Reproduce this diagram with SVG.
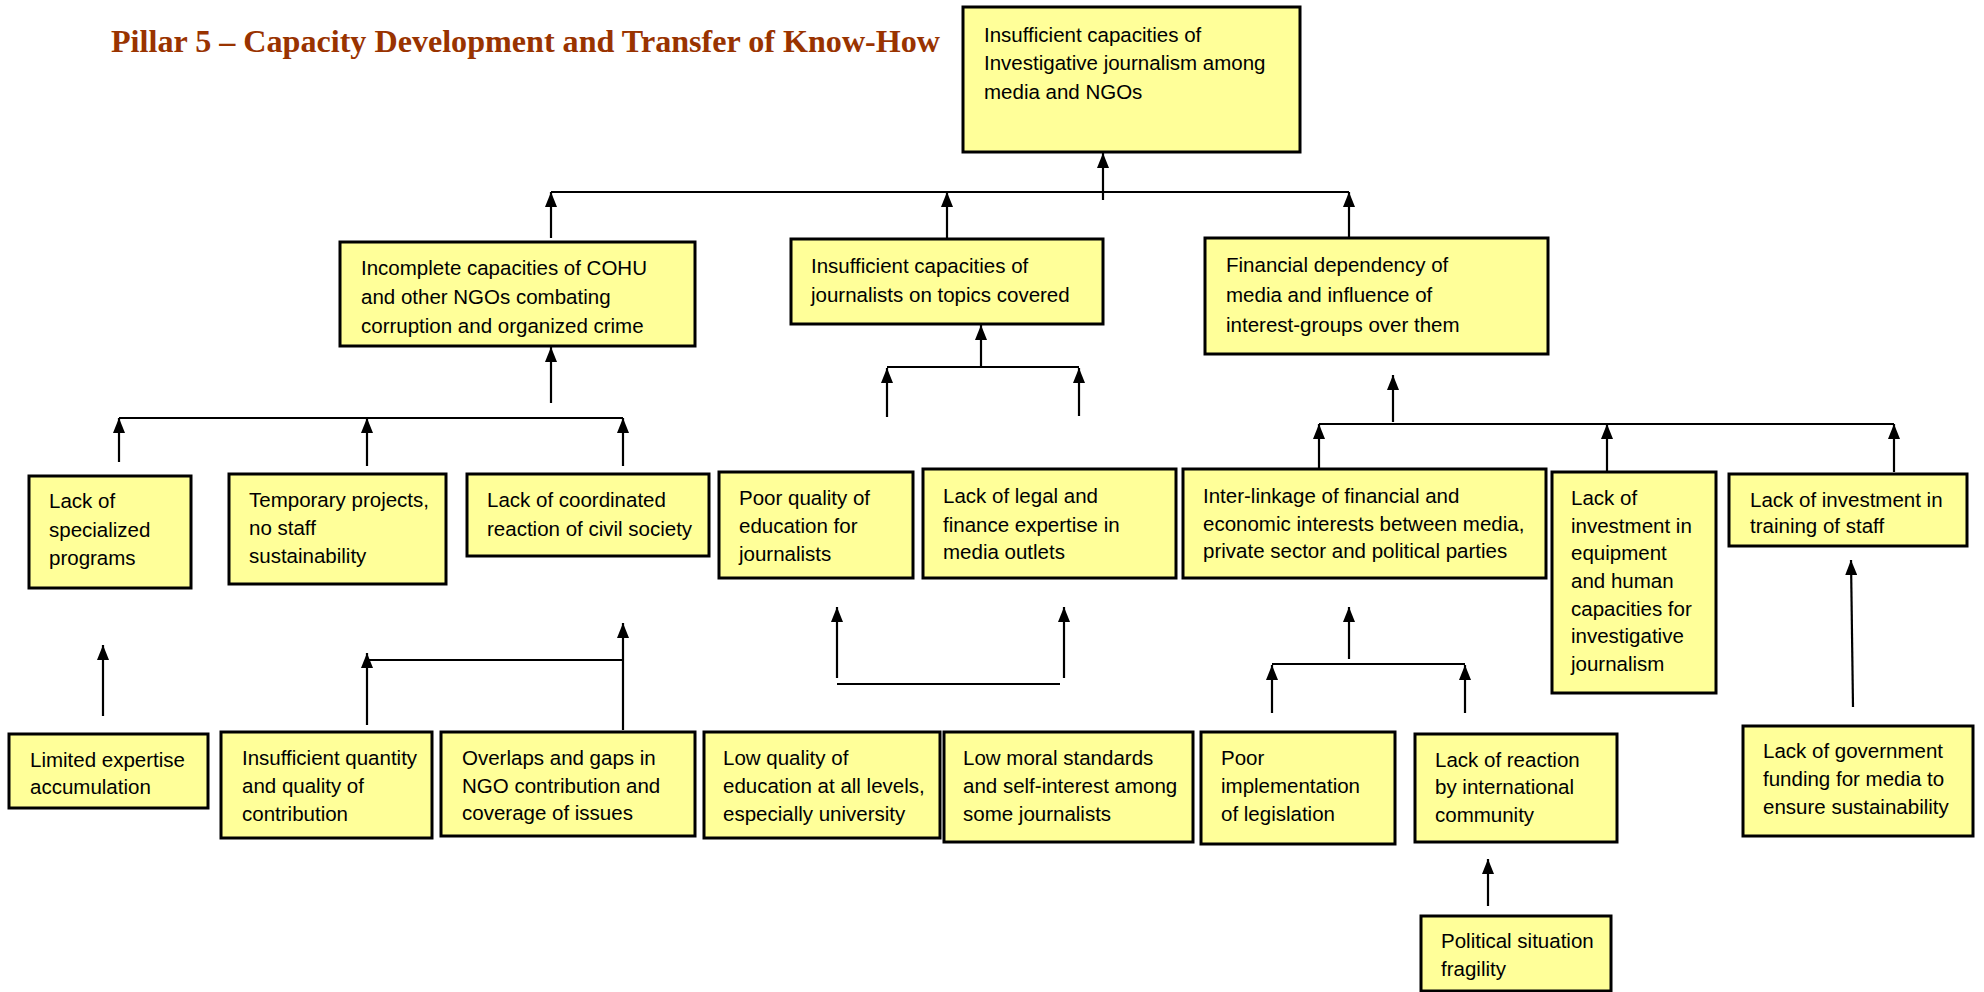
<svg xmlns="http://www.w3.org/2000/svg" width="1984" height="992" viewBox="0 0 1984 992">
<style>
.box rect{fill:#FFFF99;stroke:#000;stroke-width:3}
.box text{font-family:"Liberation Sans",Arial,sans-serif;font-size:20.5px;fill:#000}
.title{font-family:"Liberation Serif","Times New Roman",serif;font-size:31px;font-weight:bold;fill:#993300}
#connectors line{stroke:#000;stroke-width:2.2}
#connectors .arrow{marker-end:url(#ah)}
</style>
<defs>
<marker id="ah" viewBox="0 0 15 12" refX="15" refY="6" markerWidth="15" markerHeight="12" markerUnits="userSpaceOnUse" orient="auto">
<path d="M0,0 L15,6 L0,12 z" fill="#000"/>
</marker>
</defs>
<rect width="1984" height="992" fill="#fff"/>
<text class="title" x="111" y="52" textLength="829" lengthAdjust="spacingAndGlyphs">Pillar 5 – Capacity Development and Transfer of Know-How</text>

<g id="connectors">
<line class="arrow" x1="1103" y1="200" x2="1103" y2="153"/>
<line x1="551" y1="192" x2="1349" y2="192"/>
<line class="arrow" x1="551" y1="238" x2="551" y2="192"/>
<line class="arrow" x1="947" y1="238" x2="947" y2="192"/>
<line class="arrow" x1="1349" y1="237" x2="1349" y2="192"/>

<line class="arrow" x1="551" y1="403" x2="551" y2="347"/>
<line x1="119" y1="418" x2="623" y2="418"/>
<line class="arrow" x1="119" y1="462" x2="119" y2="418"/>
<line class="arrow" x1="367" y1="466" x2="367" y2="418"/>
<line class="arrow" x1="623" y1="466" x2="623" y2="418"/>
<line class="arrow" x1="103" y1="716" x2="103" y2="645"/>
<line class="arrow" x1="367" y1="725" x2="367" y2="653"/>
<line x1="367" y1="660" x2="623" y2="660"/>
<line class="arrow" x1="623" y1="730" x2="623" y2="623"/>

<line class="arrow" x1="981" y1="367" x2="981" y2="325"/>
<line x1="887" y1="367" x2="1079" y2="367"/>
<line class="arrow" x1="887" y1="417" x2="887" y2="368"/>
<line class="arrow" x1="1079" y1="416" x2="1079" y2="368"/>
<line class="arrow" x1="837" y1="678" x2="837" y2="607"/>
<line class="arrow" x1="1064" y1="678" x2="1064" y2="607"/>
<line x1="837" y1="684" x2="1060" y2="684"/>

<line class="arrow" x1="1393" y1="422" x2="1393" y2="375"/>
<line x1="1319" y1="424" x2="1894" y2="424"/>
<line class="arrow" x1="1319" y1="469" x2="1319" y2="424"/>
<line class="arrow" x1="1607" y1="471" x2="1607" y2="424"/>
<line class="arrow" x1="1894" y1="472" x2="1894" y2="424"/>
<line class="arrow" x1="1349" y1="659" x2="1349" y2="607"/>
<line x1="1272" y1="664" x2="1465" y2="664"/>
<line class="arrow" x1="1272" y1="713" x2="1272" y2="665"/>
<line class="arrow" x1="1465" y1="713" x2="1465" y2="665"/>
<line class="arrow" x1="1488" y1="906" x2="1488" y2="859"/>
<line class="arrow" x1="1853" y1="707" x2="1851" y2="560"/>
</g>

<g id="n-top" class="box"><rect x="963" y="7" width="337" height="145"/>
<text x="984" y="42">Insufficient capacities of</text><text x="984" y="70">Investigative journalism among</text><text x="984" y="99">media and NGOs</text></g>

<g id="n-cohu" class="box"><rect x="340" y="242" width="355" height="104"/>
<text x="361" y="275">Incomplete capacities of COHU</text><text x="361" y="304">and other NGOs combating</text><text x="361" y="333">corruption and organized crime</text></g>

<g id="n-journ" class="box"><rect x="791" y="239" width="312" height="85"/>
<text x="811" y="273">Insufficient capacities of</text><text x="811" y="302">journalists on topics covered</text></g>

<g id="n-fin" class="box"><rect x="1205" y="238" width="343" height="116"/>
<text x="1226" y="272">Financial dependency of</text><text x="1226" y="302">media and influence of</text><text x="1226" y="332">interest-groups over them</text></g>

<g id="n-spec" class="box"><rect x="29" y="476" width="162" height="112"/>
<text x="49" y="508">Lack of</text><text x="49" y="537">specialized</text><text x="49" y="565">programs</text></g>

<g id="n-temp" class="box"><rect x="229" y="474" width="217" height="110"/>
<text x="249" y="507">Temporary projects,</text><text x="249" y="535">no staff</text><text x="249" y="563">sustainability</text></g>

<g id="n-coord" class="box"><rect x="467" y="474" width="242" height="82"/>
<text x="487" y="507">Lack of coordinated</text><text x="487" y="536">reaction of civil society</text></g>

<g id="n-poored" class="box"><rect x="719" y="472" width="194" height="106"/>
<text x="739" y="505">Poor quality of</text><text x="739" y="533">education for</text><text x="739" y="561">journalists</text></g>

<g id="n-legal" class="box"><rect x="923" y="469" width="253" height="109"/>
<text x="943" y="503">Lack of legal and</text><text x="943" y="532">finance expertise in</text><text x="943" y="559">media outlets</text></g>

<g id="n-inter" class="box"><rect x="1183" y="469" width="363" height="109"/>
<text x="1203" y="503">Inter-linkage of financial and</text><text x="1203" y="531">economic interests between media,</text><text x="1203" y="558">private sector and political parties</text></g>

<g id="n-equip" class="box"><rect x="1552" y="472" width="164" height="221"/>
<text x="1571" y="505">Lack of</text><text x="1571" y="533">investment in</text><text x="1571" y="560">equipment</text><text x="1571" y="588">and human</text><text x="1571" y="616">capacities for</text><text x="1571" y="643">investigative</text><text x="1571" y="671">journalism</text></g>

<g id="n-train" class="box"><rect x="1729" y="474" width="238" height="72"/>
<text x="1750" y="507">Lack of investment in</text><text x="1750" y="533">training of staff</text></g>

<g id="n-limited" class="box"><rect x="9" y="734" width="199" height="74"/>
<text x="30" y="767">Limited expertise</text><text x="30" y="794">accumulation</text></g>

<g id="n-insuffq" class="box"><rect x="221" y="732" width="211" height="106"/>
<text x="242" y="765">Insufficient quantity</text><text x="242" y="793">and quality of</text><text x="242" y="821">contribution</text></g>

<g id="n-overlap" class="box"><rect x="441" y="732" width="254" height="104"/>
<text x="462" y="765">Overlaps and gaps in</text><text x="462" y="793">NGO contribution and</text><text x="462" y="820">coverage of issues</text></g>

<g id="n-lowq" class="box"><rect x="704" y="732" width="236" height="106"/>
<text x="723" y="765">Low quality of</text><text x="723" y="793">education at all levels,</text><text x="723" y="821">especially university</text></g>

<g id="n-moral" class="box"><rect x="944" y="732" width="249" height="110"/>
<text x="963" y="765">Low moral standards</text><text x="963" y="793">and self-interest among</text><text x="963" y="821">some journalists</text></g>

<g id="n-impl" class="box"><rect x="1201" y="732" width="194" height="112"/>
<text x="1221" y="765">Poor</text><text x="1221" y="793">implementation</text><text x="1221" y="821">of legislation</text></g>

<g id="n-intl" class="box"><rect x="1415" y="734" width="202" height="108"/>
<text x="1435" y="767">Lack of reaction</text><text x="1435" y="794">by international</text><text x="1435" y="822">community</text></g>

<g id="n-pol" class="box"><rect x="1421" y="916" width="190" height="75"/>
<text x="1441" y="948">Political situation</text><text x="1441" y="976">fragility</text></g>

<g id="n-gov" class="box"><rect x="1743" y="726" width="230" height="110"/>
<text x="1763" y="758">Lack of government</text><text x="1763" y="786">funding for media to</text><text x="1763" y="814">ensure sustainability</text></g>
</svg>
